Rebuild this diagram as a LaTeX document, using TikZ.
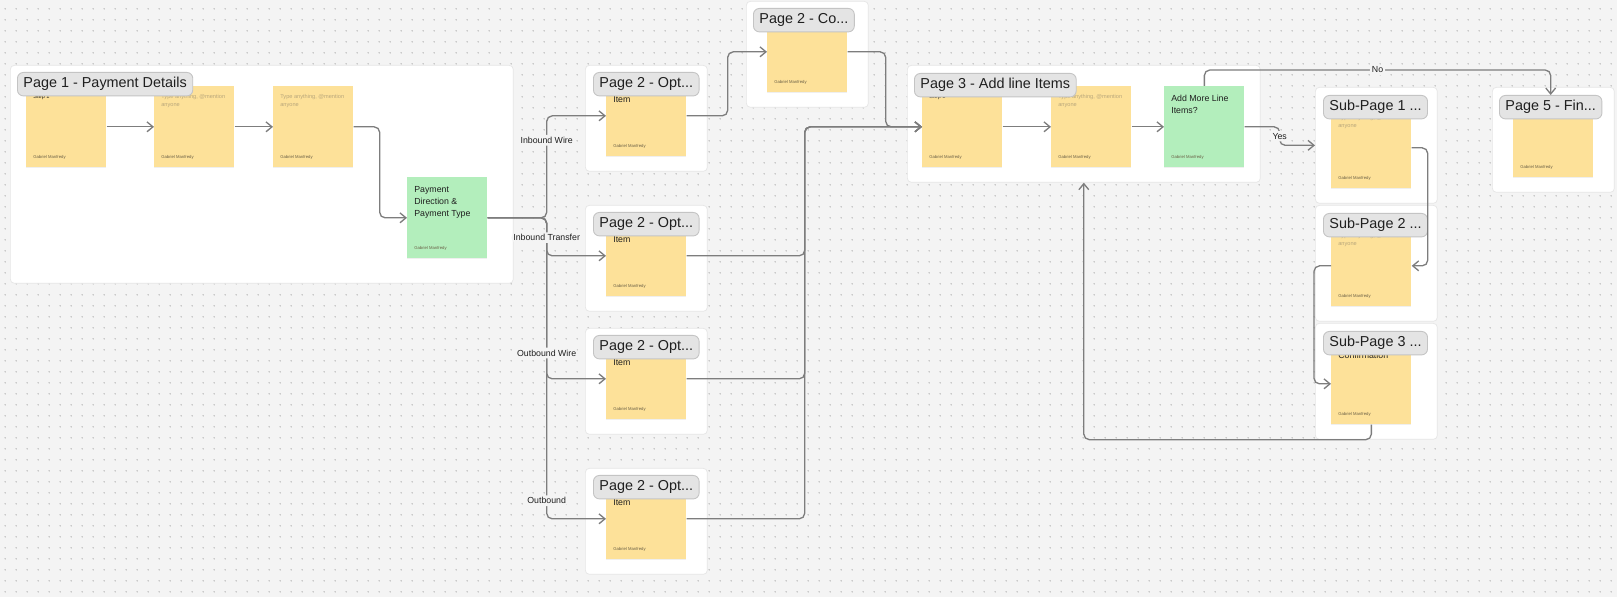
\documentclass[tikz,border=0pt]{standalone}
\usepackage{fontspec}
\setmainfont{Liberation Sans}
\usetikzlibrary{arrows.meta,shadows,patterns.meta}

\definecolor{canvas}{HTML}{F4F4F4}
\definecolor{dotgrey}{HTML}{BBBBBB}
\definecolor{framec}{HTML}{E6E6E6}
\definecolor{pillfill}{HTML}{E4E4E4}
\definecolor{pillline}{HTML}{C4C4C4}
\definecolor{noteyellow}{HTML}{FDE199}
\definecolor{notegreen}{HTML}{B3EEBC}
\definecolor{linec}{HTML}{7D7D7D}
\definecolor{ink}{HTML}{1F1F1F}
\definecolor{hintc}{HTML}{B9A77B}
\definecolor{authorc}{HTML}{6A5F45}

\tikzdeclarepattern{
  name=canvasdots,
  type=colored,
  bottom left={(0cm,0cm)},
  top right={(0.2134cm,0.2134cm)},
  tile size={(0.2134cm,0.2134cm)},
  code={\fill[dotgrey] (0.1067cm,0.1067cm) circle (0.016cm);}
}

\begin{document}
\begin{tikzpicture}[x=0.02cm, y=-0.02cm, >={Straight Barb[length=3.4pt,width=5.6pt]}]

      \tikzset{pageframe/.style={draw=framec, fill=white, rounded corners=0.08cm, anchor=north west, inner sep=0pt, line width=0.4pt},
               pill/.style={draw=pillline, fill=pillfill, rounded corners=0.12cm, line width=0.5pt, inner xsep=0.12cm, inner ysep=0pt, minimum height=0.47cm, anchor=north west, text=ink, font=\fontsize{8.2pt}{9pt}\selectfont},
               sticky/.style={fill=noteyellow, minimum width=1.6cm, minimum height=1.62cm, inner sep=0pt, anchor=north west, drop shadow={shadow xshift=0pt, shadow yshift=-0.6pt, opacity=0.12}},
               greennote/.style={sticky, fill=notegreen},
               author/.style={anchor=west, inner sep=0pt, text=authorc, font=\fontsize{2.4pt}{3pt}\selectfont},
               hint/.style={anchor=north west, inner sep=0pt, align=left, text=hintc, font=\fontsize{3.2pt}{4.5pt}\selectfont},
               steptxt/.style={hint, text=ink},
               body/.style={anchor=north west, inner sep=0pt, align=left, text=ink, font=\fontsize{5pt}{6.8pt}\selectfont},
               lbl/.style={fill=canvas, inner sep=1.2pt, text=ink, font=\fontsize{5pt}{5.8pt}\selectfont},
               conn/.style={->, draw=linec, line width=0.75pt, rounded corners=0.11cm}}
%% Canvas
      \useasboundingbox (0,0) rectangle (1617,597);
      \fill[canvas] (0,0) rectangle (1617,597);
      \fill[pattern=canvasdots] (0,0) rectangle (1617,597);
%% Frames
      \node[pageframe, minimum width=10.06cm, minimum height=4.36cm] (f1) at (10,65) {};
      \node[pageframe, minimum width=2.44cm, minimum height=2.12cm] (f2co) at (746,1) {};
      \node[pageframe, minimum width=2.44cm, minimum height=2.12cm] (f2a) at (585,65) {};
      \node[pageframe, minimum width=2.44cm, minimum height=2.12cm] (f2b) at (585,205) {};
      \node[pageframe, minimum width=2.44cm, minimum height=2.12cm] (f2c) at (585,328) {};
      \node[pageframe, minimum width=2.44cm, minimum height=2.12cm] (f2d) at (585,468) {};
      \node[pageframe, minimum width=7.06cm, minimum height=2.34cm] (f3) at (907,65) {};
      \node[pageframe, minimum width=2.44cm, minimum height=2.32cm] (fs1) at (1315,87) {};
      \node[pageframe, minimum width=2.44cm, minimum height=2.32cm] (fs2) at (1315,205) {};
      \node[pageframe, minimum width=2.44cm, minimum height=2.32cm] (fs3) at (1315,323) {};
      \node[pageframe, minimum width=2.44cm, minimum height=2.1cm] (f5) at (1492,87) {};
%% Stickies
      \node[sticky] (s1a) at (26,86) {};
      \node[sticky] (s1b) at (154,86) {};
      \node[sticky] (s1c) at (273,86) {};
      \node[greennote] (g1) at (407,177) {};
      \node[sticky] (s2co) at (767,11) {};
      \node[sticky] (s2a) at (606,75) {};
      \node[sticky] (s2b) at (606,215) {};
      \node[sticky] (s2c) at (606,338) {};
      \node[sticky] (s2d) at (606,478) {};
      \node[sticky] (s3a) at (922,86) {};
      \node[sticky] (s3b) at (1051,86) {};
      \node[greennote] (g3) at (1164,86) {};
      \node[sticky] (ss1) at (1331,107) {};
      \node[sticky] (ss2) at (1331,225) {};
      \node[sticky] (ss3) at (1331,343) {};
      \node[sticky] (s5) at (1513,96) {};
%Sticky texts
      \node[steptxt] (s1a-t) at ([shift={(7,8)}]s1a.north west) {Step 1};
      \node[hint] (s1b-t) at ([shift={(7,8)}]s1b.north west) {Type anything, @mention\\anyone};
      \node[hint] (s1c-t) at ([shift={(7,8)}]s1c.north west) {Type anything, @mention\\anyone};
      \node[body] (g1-t) at ([shift={(7,9)}]g1.north west) {Payment\\Direction \&\\Payment Type};
      \node[body] (s2a-t) at ([shift={(7,21)}]s2a.north west) {Item};
      \node[body] (s2b-t) at ([shift={(7,21)}]s2b.north west) {Item};
      \node[body] (s2c-t) at ([shift={(7,21)}]s2c.north west) {Item};
      \node[body] (s2d-t) at ([shift={(7,21)}]s2d.north west) {Item};
      \node[steptxt] (s3a-t) at ([shift={(7,8)}]s3a.north west) {Step 1};
      \node[hint] (s3b-t) at ([shift={(7,8)}]s3b.north west) {Type anything, @mention\\anyone};
      \node[body] (g3-t) at ([shift={(7,9)}]g3.north west) {Add More Line\\Items?};
      \node[hint] (ss1-t) at ([shift={(7,8)}]ss1.north west) {Type anything, @mention\\anyone};
      \node[hint] (ss2-t) at ([shift={(7,8)}]ss2.north west) {Type anything, @mention\\anyone};
      \node[body] (ss3-t) at ([shift={(7,9)}]ss3.north west) {Confirmation};
%Authors
      \node[author] (s1a-by) at ([shift={(7,-10)}]s1a.south west) {Gabriel Manfredy};
      \node[author] (s1b-by) at ([shift={(7,-10)}]s1b.south west) {Gabriel Manfredy};
      \node[author] (s1c-by) at ([shift={(7,-10)}]s1c.south west) {Gabriel Manfredy};
      \node[author] (g1-by) at ([shift={(7,-10)}]g1.south west) {Gabriel Manfredy};
      \node[author] (s2co-by) at ([shift={(7,-10)}]s2co.south west) {Gabriel Manfredy};
      \node[author] (s2a-by) at ([shift={(7,-10)}]s2a.south west) {Gabriel Manfredy};
      \node[author] (s2b-by) at ([shift={(7,-10)}]s2b.south west) {Gabriel Manfredy};
      \node[author] (s2c-by) at ([shift={(7,-10)}]s2c.south west) {Gabriel Manfredy};
      \node[author] (s2d-by) at ([shift={(7,-10)}]s2d.south west) {Gabriel Manfredy};
      \node[author] (s3a-by) at ([shift={(7,-10)}]s3a.south west) {Gabriel Manfredy};
      \node[author] (s3b-by) at ([shift={(7,-10)}]s3b.south west) {Gabriel Manfredy};
      \node[author] (g3-by) at ([shift={(7,-10)}]g3.south west) {Gabriel Manfredy};
      \node[author] (ss1-by) at ([shift={(7,-10)}]ss1.south west) {Gabriel Manfredy};
      \node[author] (ss2-by) at ([shift={(7,-10)}]ss2.south west) {Gabriel Manfredy};
      \node[author] (ss3-by) at ([shift={(7,-10)}]ss3.south west) {Gabriel Manfredy};
      \node[author] (s5-by) at ([shift={(7,-10)}]s5.south west) {Gabriel Manfredy};
%% Titles
      \node[pill] (p1) at (17,72) {Page 1 - Payment Details};
      \node[pill] (p2co) at (753,8) {Page 2 - Co...};
      \node[pill] (p2a) at (593,72) {Page 2 - Opt...};
      \node[pill] (p2b) at (593,212) {Page 2 - Opt...};
      \node[pill] (p2c) at (593,335) {Page 2 - Opt...};
      \node[pill] (p2d) at (593,475) {Page 2 - Opt...};
      \node[pill] (p3) at (914,73) {Page 3 - Add line Items};
      \node[pill] (ps1) at (1323,95) {Sub-Page 1 ...};
      \node[pill] (ps2) at (1323,213) {Sub-Page 2 ...};
      \node[pill] (ps3) at (1323,331) {Sub-Page 3 ...};
      \node[pill] (p5) at (1499,95) {Page 5 - Fin...};
%% Connectors
      \draw[conn] (s1a) -- (s1b);
      \draw[conn] (s1b) -- (s1c);
      \draw[conn] (s1c.east) -- ++(26,0) |- (g1.west);
%Branches
      \draw[conn] (g1.east) -- ++(59,0) |- node[lbl, pos=0.47] {Outbound} (s2d.west);
      \draw[conn] (g1.east) -- ++(59,0) |- node[lbl, pos=0.42] {Outbound Wire} (s2c.west);
      \draw[conn] (g1.east) -- ++(59,0) |- node[lbl, pos=0.26] {Inbound Transfer} (s2b.west);
      \draw[conn] (g1.east) -- ++(59,0) |- node[lbl, pos=0.38] {Inbound Wire} (s2a.west);
%Page 2 to Page 3
      \draw[conn] (s2a.east) -- ++(41,0) |- (s2co.west);
      \draw[conn] (s2co.east) -- ++(38,0) |- (s3a.west);
      \draw[conn] (s2b.east) -- ++(118,0) |- (s3a.west);
      \draw[conn] (s2c.east) -- ++(118,0) |- (s3a.west);
      \draw[conn] (s2d.east) -- ++(118,0) |- (s3a.west);
%Page 3
      \draw[conn] (s3a) -- (s3b);
      \draw[conn] (s3b) -- (g3);
      \draw[conn] (g3.east) -- ++(35,0) |- node[lbl, pos=0.25] {Yes} (fs1.west);
      \draw[conn] (g3.north) -- ++(0,-16) -| node[lbl, pos=0.25] {No} (p5.north);
%Sub pages
      \draw[conn] (ss1.east) -- ++(16,0) |- (ss2.east);
      \draw[conn] (ss2.west) -- ++(-17,0) |- (ss3.west);
      \draw[conn] (ss3.south) -- ++(0,15) -| (f3.south);

\end{tikzpicture}
\end{document}
